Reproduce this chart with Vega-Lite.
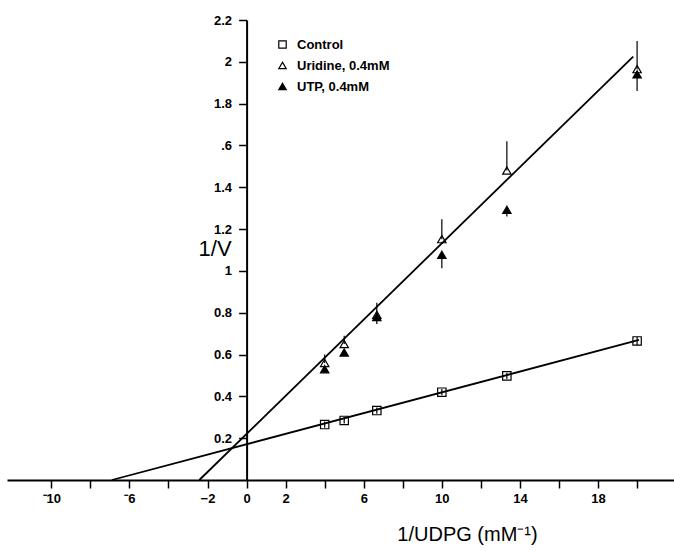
{
  "$schema": "https://vega.github.io/schema/vega-lite/v6.json",
  "autosize": "none",
  "width": 667,
  "height": 460,
  "padding": {"left": 7, "top": 20, "right": 0, "bottom": 71},
  "background": "white",
  "config": {
    "view": {"stroke": null},
    "font": "Liberation Sans",
    "axis": {"grid": false, "domainColor": "black", "tickColor": "black", "labelColor": "black", "titleColor": "black"},
    "legend": {
      "title": null,
      "orient": "none",
      "legendX": 269,
      "legendY": 18,
      "labelFont": "Liberation Sans",
      "labelFontSize": 13,
      "labelFontWeight": "bold",
      "labelColor": "black",
      "symbolSize": 55,
      "symbolStrokeWidth": 1.2,
      "rowPadding": 7,
      "labelOffset": 8
    }
  },
  "datasets": {
    "pts": [
      {"group": "Control", "x": 4, "y": 0.265, "lo": 0.25, "hi": 0.28},
      {"group": "Control", "x": 5, "y": 0.285, "lo": 0.27, "hi": 0.3},
      {"group": "Control", "x": 6.67, "y": 0.332, "lo": 0.317, "hi": 0.347},
      {"group": "Control", "x": 10, "y": 0.42, "lo": 0.405, "hi": 0.435},
      {"group": "Control", "x": 13.33, "y": 0.498, "lo": 0.483, "hi": 0.513},
      {"group": "Control", "x": 20, "y": 0.665, "lo": 0.645, "hi": 0.685},
      {"group": "Uridine, 0.4mM", "x": 4, "y": 0.56, "lo": 0.56, "hi": 0.6},
      {"group": "Uridine, 0.4mM", "x": 5, "y": 0.65, "lo": 0.65, "hi": 0.69},
      {"group": "Uridine, 0.4mM", "x": 6.67, "y": 0.79, "lo": 0.746, "hi": 0.848},
      {"group": "Uridine, 0.4mM", "x": 10, "y": 1.152, "lo": 1.152, "hi": 1.247},
      {"group": "Uridine, 0.4mM", "x": 13.33, "y": 1.48, "lo": 1.48, "hi": 1.62},
      {"group": "Uridine, 0.4mM", "x": 20, "y": 1.965, "lo": 1.965, "hi": 2.1},
      {"group": "UTP, 0.4mM", "x": 4, "y": 0.53, "lo": 0.53, "hi": 0.53},
      {"group": "UTP, 0.4mM", "x": 5, "y": 0.61, "lo": 0.61, "hi": 0.61},
      {"group": "UTP, 0.4mM", "x": 6.67, "y": 0.78, "lo": 0.78, "hi": 0.78},
      {"group": "UTP, 0.4mM", "x": 10, "y": 1.077, "lo": 1.013, "hi": 1.077},
      {"group": "UTP, 0.4mM", "x": 13.33, "y": 1.292, "lo": 1.26, "hi": 1.292},
      {"group": "UTP, 0.4mM", "x": 20, "y": 1.94, "lo": 1.86, "hi": 1.94}
    ],
    "fits": [
      {"fit": "Control", "x": -6.9, "y": 0},
      {"fit": "Control", "x": 20.1, "y": 0.67},
      {"fit": "Uridine", "x": -2.42, "y": 0},
      {"fit": "Uridine", "x": 19.8, "y": 2.025}
    ]
  },
  "encoding": {
    "x": {
      "type": "quantitative",
      "scale": {"domain": [-12.27, 21.89], "nice": false, "zero": false},
      "axis": {
        "orient": "bottom",
        "values": [-10, -8, -6, -4, -2, 0, 2, 4, 6, 8, 10, 12, 14, 16, 18, 20],
        "labelExpr": "datum.value == -10 ? '⁻10' : datum.value == -6 ? '⁻6' : datum.value == -2 ? '−2' : indexof([0, 2, 6, 10, 14, 18], datum.value) >= 0 ? '' + datum.value : ''",
        "domainWidth": 2,
        "tickWidth": 1.5,
        "tickSize": 8,
        "labelPadding": 4,
        "labelFontSize": 13,
        "labelFontWeight": "bold",
        "labelFont": "Liberation Sans",
        "labelFlush": false,
        "labelOverlap": false,
        "title": "1/UDPG (mM⁻¹)",
        "titleFont": "Liberation Sans",
        "titleFontSize": 20,
        "titleFontWeight": "normal",
        "titleX": 460,
        "titleY": 60,
        "titleBaseline": "alphabetic",
        "titleAlign": "center",
        "titleAnchor": null
      }
    },
    "y": {
      "type": "quantitative",
      "scale": {"domain": [0, 2.2], "nice": false, "zero": false},
      "axis": {
        "orient": "left",
        "offset": -239.6,
        "values": [0.2, 0.4, 0.6, 0.8, 1, 1.2, 1.4, 1.6, 1.8, 2, 2.2],
        "labelExpr": "datum.value == 1.6 ? '.6' : format(datum.value, '~g')",
        "domainWidth": 2,
        "tickWidth": 1.5,
        "tickSize": 8,
        "labelPadding": 7,
        "labelFontSize": 13,
        "labelFontWeight": "bold",
        "labelFont": "Liberation Sans",
        "labelFlush": false,
        "labelOverlap": false,
        "title": "1/V",
        "titleFont": "Liberation Sans",
        "titleFontSize": 22,
        "titleFontWeight": "normal",
        "titleAngle": 0,
        "titleX": -32,
        "titleY": 228,
        "titleAlign": "center",
        "titleBaseline": "middle",
        "titleAnchor": null
      }
    }
  },
  "layer": [
    {
      "data": {"name": "pts"},
      "mark": {"type": "point", "strokeWidth": 1.2, "size": 70, "opacity": 1},
      "encoding": {
        "x": {"field": "x", "type": "quantitative"},
        "y": {"field": "y", "type": "quantitative"},
        "shape": {
          "field": "group",
          "type": "nominal",
          "scale": {"domain": ["Control", "Uridine, 0.4mM", "UTP, 0.4mM"], "range": ["square", "triangle-up", "triangle-up"]}
        },
        "fill": {
          "field": "group",
          "type": "nominal",
          "scale": {"domain": ["Control", "Uridine, 0.4mM", "UTP, 0.4mM"], "range": ["white", "white", "black"]}
        },
        "stroke": {
          "field": "group",
          "type": "nominal",
          "scale": {"domain": ["Control", "Uridine, 0.4mM", "UTP, 0.4mM"], "range": ["black", "black", "black"]}
        }
      }
    },
    {
      "data": {"name": "fits"},
      "mark": {"type": "line", "color": "black", "strokeWidth": 1.8},
      "encoding": {
        "x": {"field": "x", "type": "quantitative"},
        "y": {"field": "y", "type": "quantitative"},
        "detail": {"field": "fit"}
      }
    },
    {
      "data": {"name": "pts"},
      "mark": {"type": "rule", "color": "black", "strokeWidth": 1.2},
      "encoding": {
        "x": {"field": "x", "type": "quantitative"},
        "y": {"field": "lo", "type": "quantitative"},
        "y2": {"field": "hi"}
      }
    }
  ]
}
